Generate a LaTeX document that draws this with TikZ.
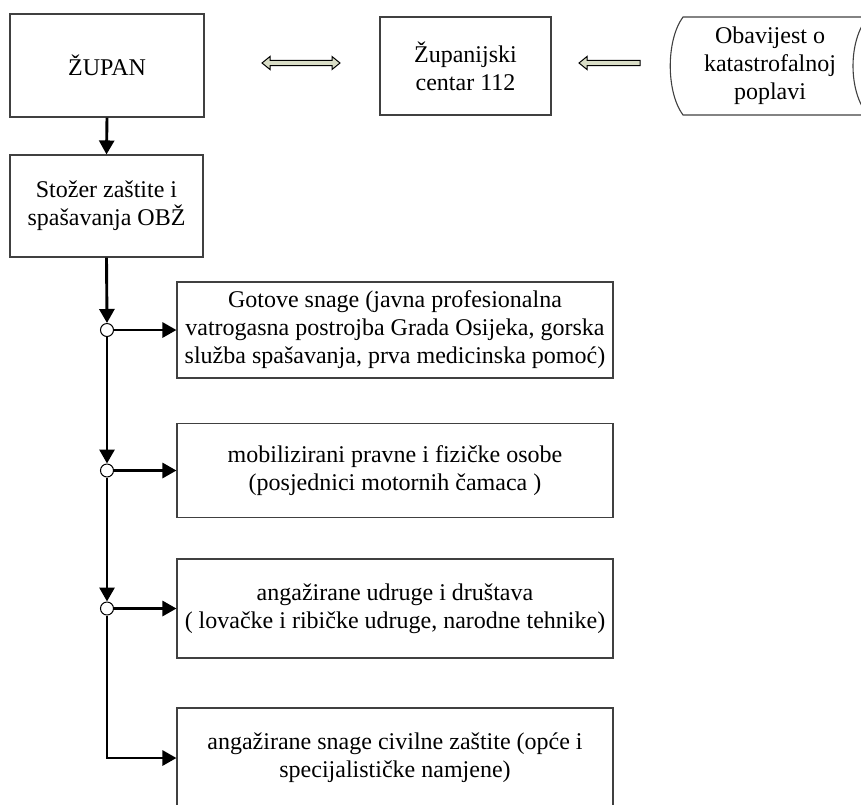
\documentclass[tikz,border=0pt]{standalone}
\usepackage{fontspec}
\setmainfont{Liberation Serif}
\usetikzlibrary{arrows.meta,calc}
\definecolor{hollowfill}{HTML}{D9DDC6}
\definecolor{boxline}{HTML}{404040}

\begin{document}
\begin{tikzpicture}[x=1pt,y=-1pt,
  box/.style={draw=boxline,line width=1.1pt,align=center,inner sep=0pt,
    font=\fontsize{24}{28}\selectfont},
  label/.style={align=center,inner sep=0pt,font=\fontsize{24}{28}\selectfont},
  flow/.style={line width=2.9pt,-{Triangle[length=14pt,width=15pt]}},
  joint/.style={circle,draw=black,line width=1pt,fill=white,minimum size=13pt,inner sep=0pt},
  hollow/.style={draw=black,line width=1pt,fill=hollowfill,line join=miter}]
\useasboundingbox (0,0) rectangle (861,804);
\clip (0,0) rectangle (861,804);

% top row
\node[box,minimum width=194pt,minimum height=103pt] (zupan) at (107,65.5) {ŽUPAN};
\node[box,minimum width=171pt,minimum height=98pt] (centar) at (465.5,66) {Županijski\\centar 112};

% stored-data shape holding the flood notice
\draw[draw=boxline,line width=1.1pt] (683,17) -- (868,17)
  .. controls (848,40) and (848,92) .. (868,115) -- (683,115)
  .. controls (666,92) and (666,40) .. cycle;
\node[label] (notice) at (770,66) {Obavijest o\\katastrofalnoj\\poplavi};

% hollow arrows of the top row
\coordinate (dA) at (262,63);
\coordinate (dB) at (340,63);
\draw[hollow] (dA) -- ++(8,-6.5) -- ++(0,3.9) -- ($(dB)+(-8,-2.6)$) -- ++(0,-3.9)
  -- (dB) -- ++(-8,6.5) -- ++(0,-3.9) -- ($(dA)+(8,2.6)$) -- ++(0,3.9) -- cycle;
\coordinate (sA) at (640,63);
\coordinate (sB) at (579,63);
\draw[hollow] (sB) -- ++(8,-6.5) -- ++(0,3.9) -- ($(sA)+(0,-2.6)$) -- ++(0,5.2)
  -- ($(sB)+(8,2.6)$) -- ++(0,3.9) -- cycle;

% headquarters
\node[box,minimum width=193pt,minimum height=102pt] (stozer) at (106.5,206) {Stožer zaštite i\\spašavanja OBŽ};

% forces
\node[box,minimum width=436pt,minimum height=96pt] (gotove) at (395,330)
  {Gotove snage (javna profesionalna\\vatrogasna postrojba Grada Osijeka, gorska\\služba spašavanja, prva medicinska pomoć)};
\node[box,minimum width=436pt,minimum height=94pt] (mobil) at (395,470.5)
  {mobilizirani pravne i fizičke osobe\\(posjednici motornih čamaca )};
\node[box,minimum width=436pt,minimum height=99pt] (udruge) at (395,608.5)
  {angažirane udruge i društava\\( lovačke i ribičke udruge, narodne tehnike)};
\node[box,minimum width=436pt,minimum height=100pt] (civil) at (395,758)
  {angažirane snage civilne zaštite (opće i\\specijalističke namjene)};

% junctions on the trunk
\node[joint] (j1) at (107,330) {};
\node[joint] (j2) at (107,470.5) {};
\node[joint] (j3) at (107,608.5) {};
\coordinate (bend) at (107,758);

% connectors
\draw[flow] (zupan.south) -- (stozer.north);
\draw[flow] (stozer.south) -- (j1.north);
\draw[flow] (j1.south) -- (j2.north);
\draw[flow] (j2.south) -- (j3.north);
\draw[flow] (j1.east) -- (gotove.west);
\draw[flow] (j2.east) -- (mobil.west);
\draw[flow] (j3.east) -- (udruge.west);
\draw[flow,line join=miter] (j3.south) -- (bend) -- (civil.west);
\end{tikzpicture}
\end{document}
